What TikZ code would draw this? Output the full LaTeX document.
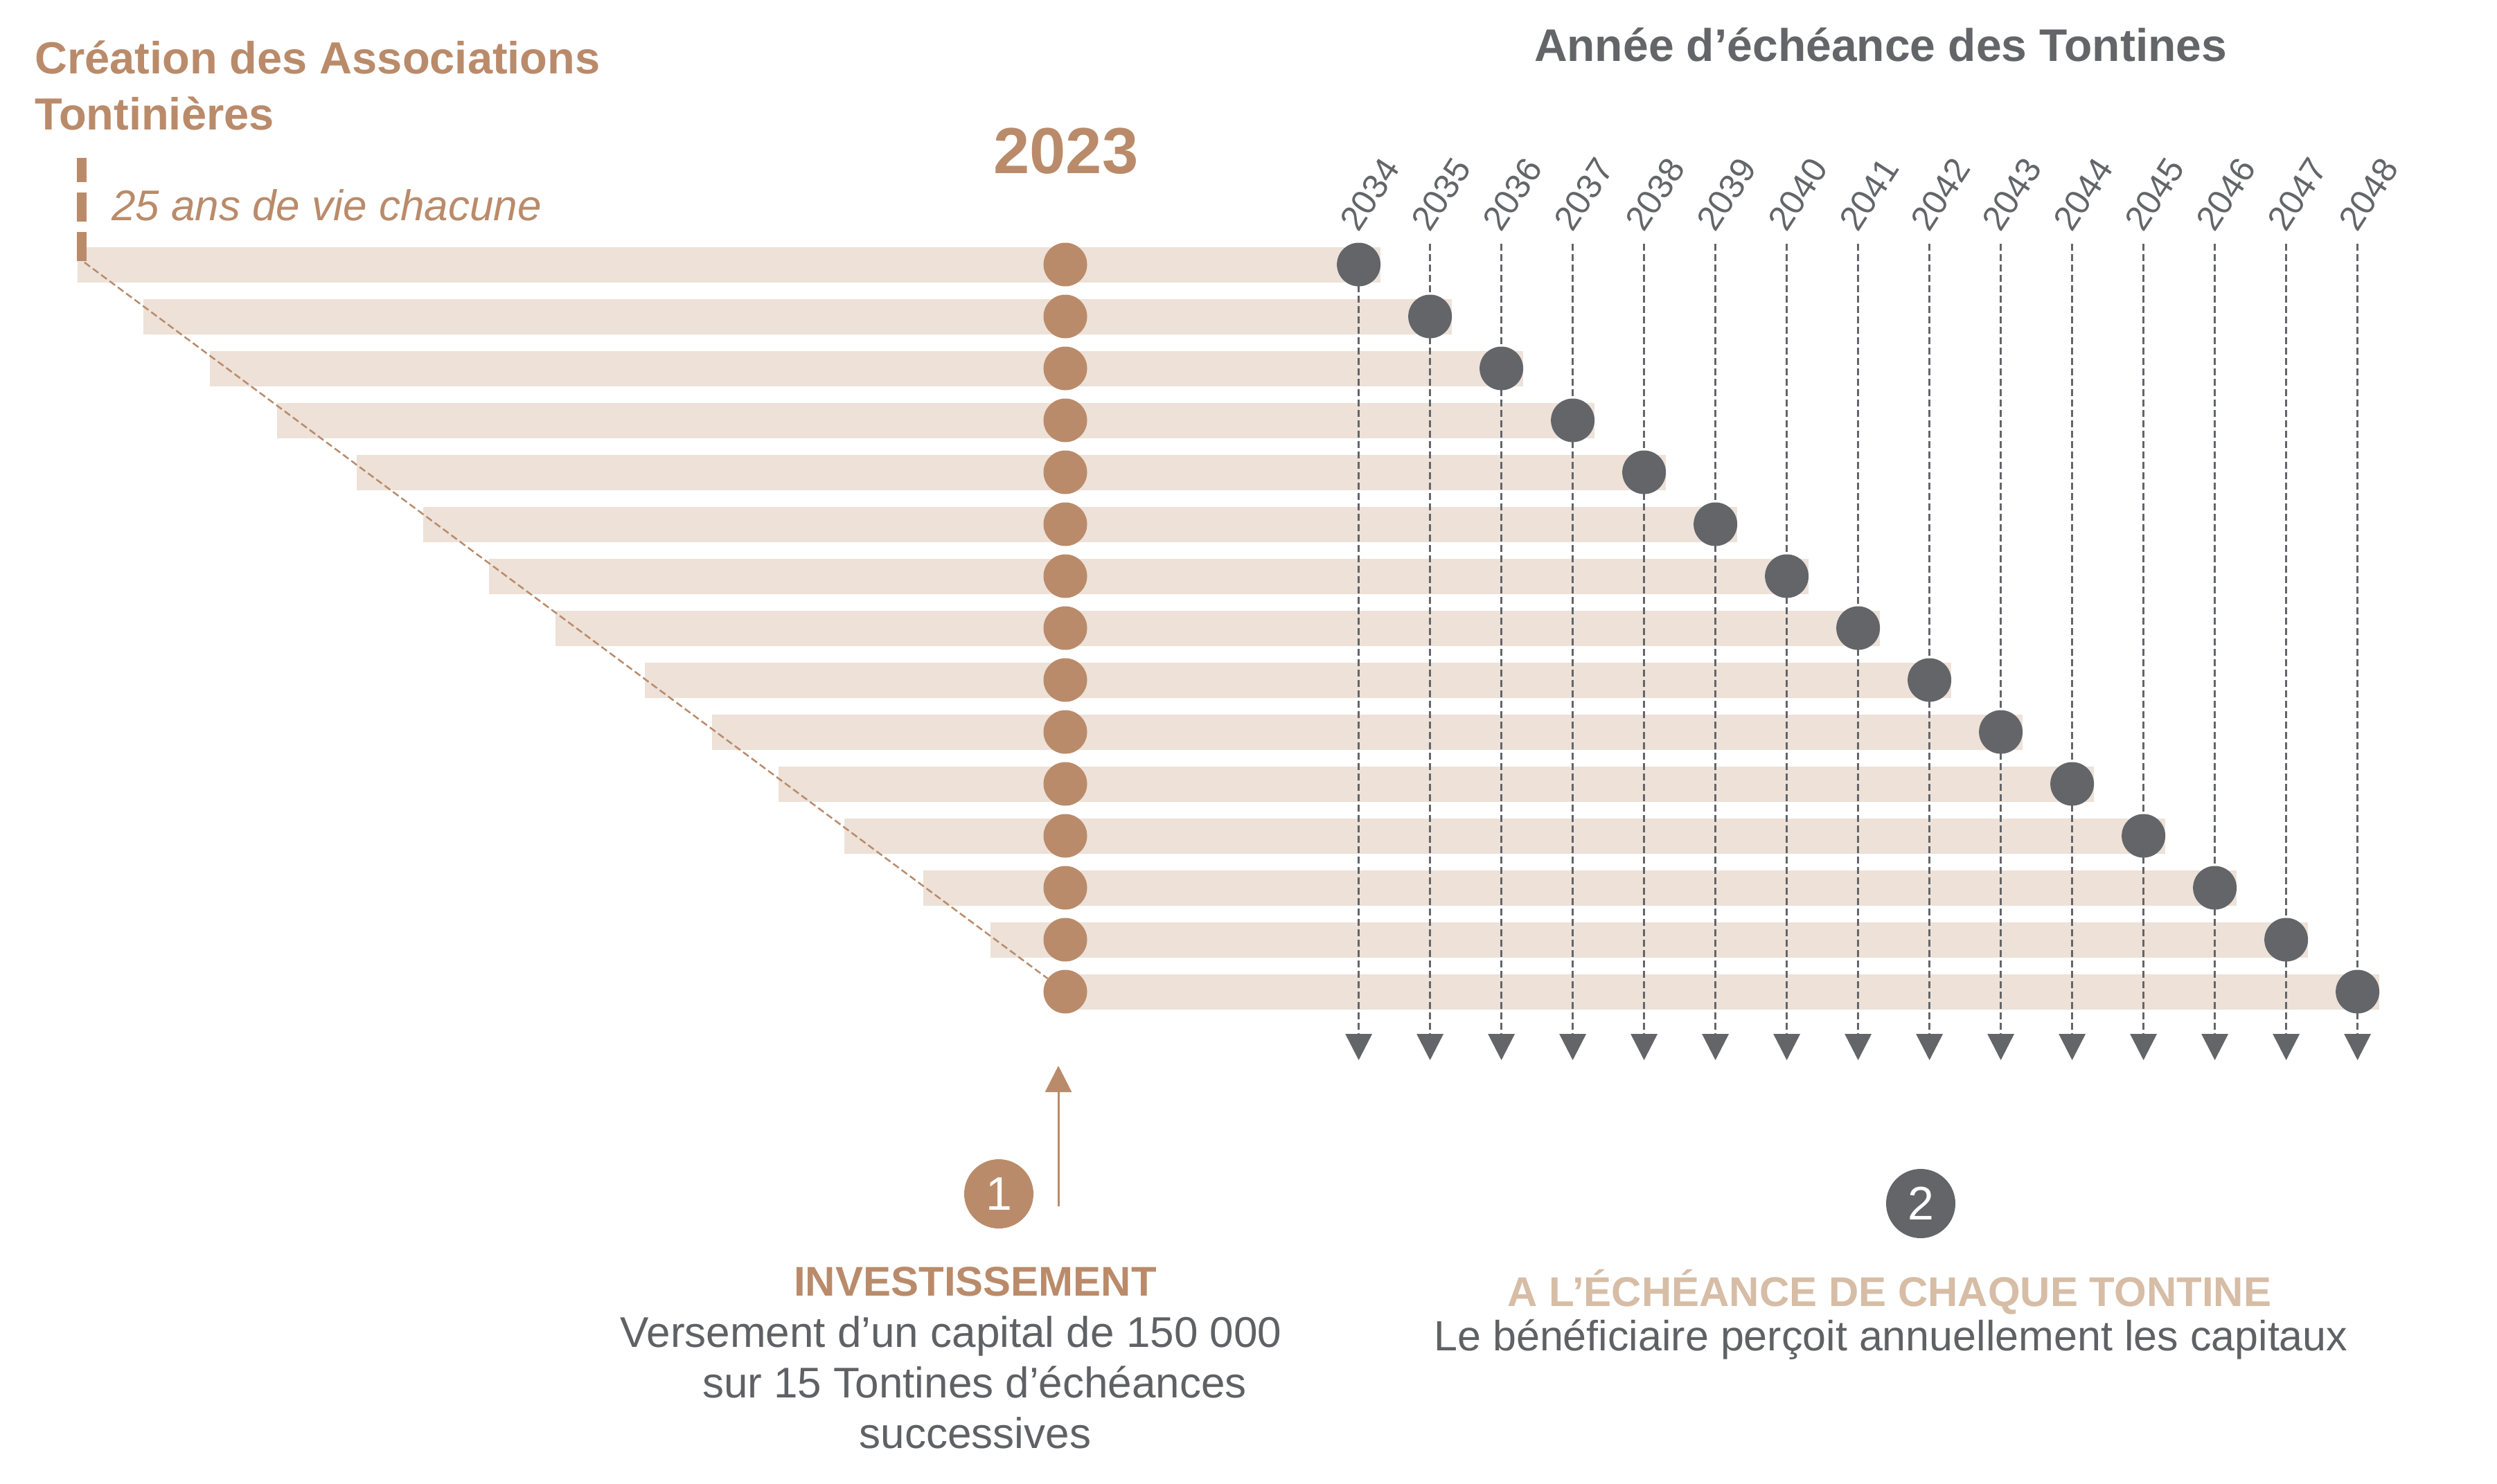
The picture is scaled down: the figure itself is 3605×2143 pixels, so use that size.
\documentclass[tikz,border=0pt]{standalone}
\usepackage{fontspec}
\setmainfont{Liberation Sans}
\usetikzlibrary{arrows.meta}
\definecolor{brun}{HTML}{BA8B6A}
\definecolor{barfill}{HTML}{EDE1D8}
\definecolor{gris}{HTML}{636569}
\definecolor{grist}{HTML}{5F6165}
\definecolor{tanc}{HTML}{D7BDA6}
\begin{document}
\begin{tikzpicture}[x=1pt,y=-1pt,
  bar/.style={fill=barfill,draw=none},
  bcirc/.style={circle,fill=brun,minimum size=63pt,inner sep=0pt},
  dcirc/.style={circle,fill=gris,minimum size=63pt,inner sep=0pt},
  coldash/.style={draw=gris,line width=3.5pt,dash pattern=on 10pt off 5pt,-{Triangle[width=38pt,length=38pt,fill=gris]}},
  yearlbl/.style={anchor=base west,rotate=57,font=\fontsize{50}{50}\selectfont,text=gris,inner sep=0pt},
  txt/.style={inner sep=0pt,anchor=base},
  numcirc/.style={circle,minimum size=100pt,inner sep=0pt,text=white,font=\fontsize{68}{68}\selectfont}
]
\useasboundingbox (0,0) rectangle (3605,2143);
\fill[white] (0,0) rectangle (3605,2143);

% bars
\foreach \L [count=\i from 0] in {112,207,303,400,515,611,706,802,931,1028,1124,1219,1333,1430,1540} {
  \pgfmathsetmacro\yy{382+75*\i}
  \pgfmathsetmacro\xr{1961.6+103*\i+31}
  \path[bar] (\L,\yy-25.5) rectangle (\xr,\yy+25.5);
}

% brown vertical dashed marker
\coordinate (vt) at (118,228);
\coordinate (vb) at (118,379);
\draw[brun,line width=14pt,dash pattern=on 42pt off 15pt,dash phase=7pt] (vt) -- (vb);

% column dashed arrows
\foreach \i in {0,...,14} {
  \pgfmathsetmacro\xc{1961.6+103*\i}
  \coordinate (ct\i) at (\xc,352);
  \coordinate (cb\i) at (\xc,1531);
  \draw[coldash] (ct\i) -- (cb\i);
}

% circles and year labels
\foreach \i in {0,...,14} {
  \pgfmathsetmacro\yy{382+75*\i}
  \pgfmathsetmacro\xc{1961.6+103*\i}
  \pgfmathtruncatemacro\yr{2034+\i}
  \node[bcirc] (b\i) at (1538,\yy) {};
  \node[dcirc] (d\i) at (\xc,\yy) {};
  \node[yearlbl] (yr\i) at (\xc,337) {\yr};
}

% diagonal
\coordinate (dg0) at (122,379);
\draw[brun,line width=2.5pt,dash pattern=on 10pt off 5pt] (dg0) -- (b14);

% titles
\node[txt,anchor=base west,text=brun,font=\bfseries\fontsize{65}{65}\selectfont] (t1) at (50,107) {Création des Associations};
\node[txt,anchor=base west,text=brun,font=\bfseries\fontsize{65}{65}\selectfont] (t2) at (50,188) {Tontinières};
\node[txt,anchor=base west,text=brun,font=\itshape\fontsize{62}{62}\selectfont] (vie) at (161,318) {25 ans de vie chacune};
\node[txt,text=brun,font=\bfseries\fontsize{94}{94}\selectfont] (an) at (1539,251) {2023};
\node[txt,text=gris,font=\bfseries\fontsize{66}{66}\selectfont] (ech) at (2715,89) {Année d’échéance des Tontines};

% bottom
\coordinate (as) at (1528,1742);
\coordinate (ae) at (1528,1539);
\draw[brun,line width=3pt,-{Triangle[width=38pt,length=38pt]}] (as) -- (ae);
\node[numcirc,fill=brun] (n1) at (1442,1724) {1};
\node[numcirc,fill=gris] (n2) at (2773,1738) {2};

\node[txt,text=brun,font=\bfseries\fontsize{60}{60}\selectfont] (inv) at (1408,1871) {INVESTISSEMENT};
\node[txt,text=grist,font=\fontsize{62}{62}\selectfont] (v1) at (1373,1945) {Versement d’un capital de 150 000};
\node[txt,text=grist,font=\fontsize{62}{62}\selectfont] (v2) at (1407,2018) {sur 15 Tontines d’échéances};
\node[txt,text=grist,font=\fontsize{62}{62}\selectfont] (v3) at (1408,2091) {successives};
\node[txt,text=tanc,font=\bfseries\fontsize{60}{60}\selectfont] (ae2) at (2728,1886) {A L’ÉCHÉANCE DE CHAQUE TONTINE};
\node[txt,text=grist,font=\fontsize{61}{61}\selectfont] (ben) at (2730,1950) {Le bénéficiaire perçoit annuellement les capitaux};
\end{tikzpicture}
\end{document}
